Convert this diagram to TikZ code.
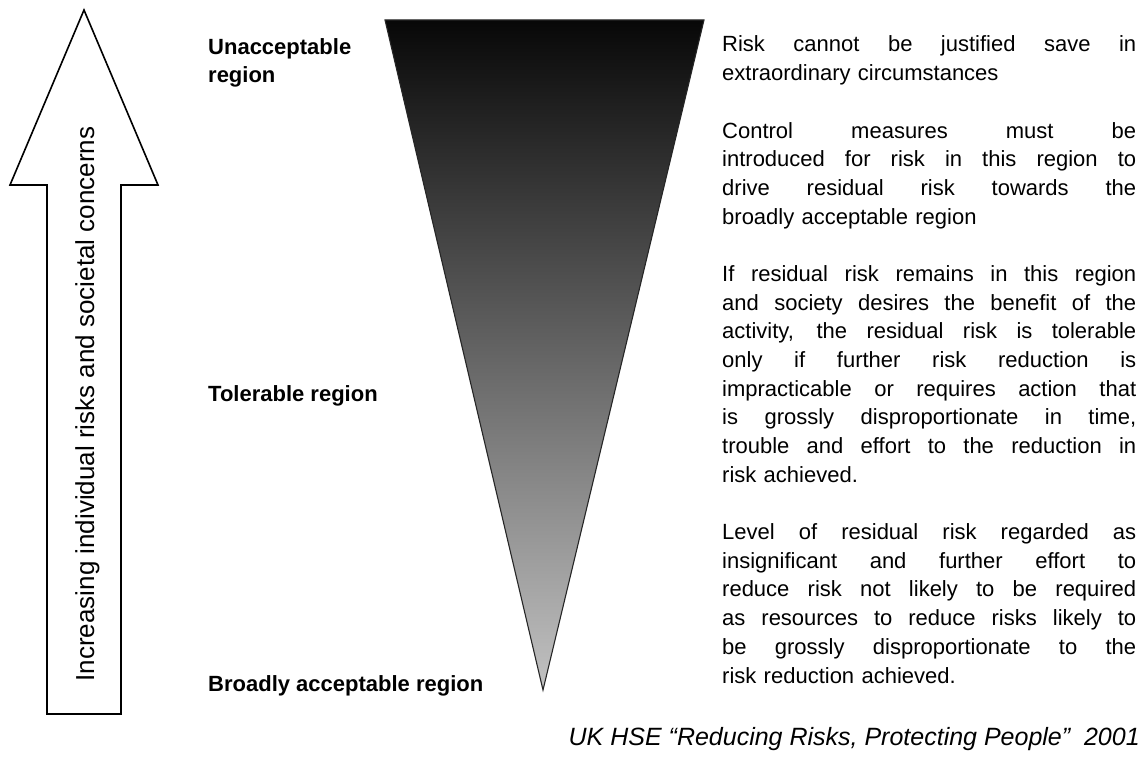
\documentclass[tikz,border=0pt]{standalone}
\usepackage{fontspec}
\setmainfont{Liberation Sans}
\newcommand{\jl}[1]{{\spaceskip=0pt\xspaceskip=0pt\makebox[414pt][s]{#1}}}
\begin{document}
\begin{tikzpicture}[x=1pt,y=-1pt,
  lab/.style={inner sep=0pt, align=left, font=\fontsize{22}{28}\selectfont\bfseries},
  desc/.style={inner sep=0pt, text width=414pt, font=\fontsize{22}{28.68}\selectfont},
  arrowtxt/.style={inner sep=0pt, rotate=90, font=\fontsize{26}{30}\selectfont},
  cite/.style={inner sep=0pt, font=\fontsize{25}{28}\selectfont\itshape}]
\useasboundingbox (0,0) rectangle (1144,762);
% big up arrow
\draw[line width=1.6pt, line join=miter, fill=white]
  (84,10) -- (158,185) -- (121,185) -- (121,714) -- (47,714) -- (47,185) -- (10,185) -- cycle;
\node[arrowtxt, anchor=base] (arrtxt) at (94,404) {Increasing individual risks and societal concerns};
% shaded triangle
\shade[top color=black!97, bottom color=black!24, draw=black!85, line width=1.1pt]
  (385,20) -- (704,20) -- (543,690) -- cycle;
% region labels
\node[lab, anchor=base west] (unacc) at (208,83) {Unacceptable\\region};
\node[lab, anchor=base west] (toler) at (208,401) {Tolerable region};
\node[lab, anchor=base west] (broad) at (208,691) {Broadly acceptable region};
% descriptions
\node[desc, anchor=base west] (d1) at (722,52)
  {\jl{Risk cannot be justified save in}\\extraordinary circumstances};
\node[desc, anchor=base west] (d2) at (722,138.04)
  {\jl{Control measures must be}\\
   \jl{introduced for risk in this region to}\\
   \jl{drive residual risk towards the}\\
   broadly acceptable region};
\node[desc, anchor=base west] (d3) at (722,281.4)
  {\jl{If residual risk remains in this region}\\
   \jl{and society desires the benefit of the}\\
   \jl{activity, the residual risk is tolerable}\\
   \jl{only if further risk reduction is}\\
   \jl{impracticable or requires action that}\\
   \jl{is grossly disproportionate in time,}\\
   \jl{trouble and effort to the reduction in}\\
   risk achieved.};
\node[desc, anchor=base west] (d4) at (722,539.6)
  {\jl{Level of residual risk regarded as}\\
   \jl{insignificant and further effort to}\\
   \jl{reduce risk not likely to be required}\\
   \jl{as resources to reduce risks likely to}\\
   \jl{be grossly disproportionate to the}\\
   risk reduction achieved.};
% citation
\node[cite, anchor=base east] (src) at (1140,745)
  {UK HSE “Reducing Risks, Protecting People”~ 2001};
\end{tikzpicture}
\end{document}
